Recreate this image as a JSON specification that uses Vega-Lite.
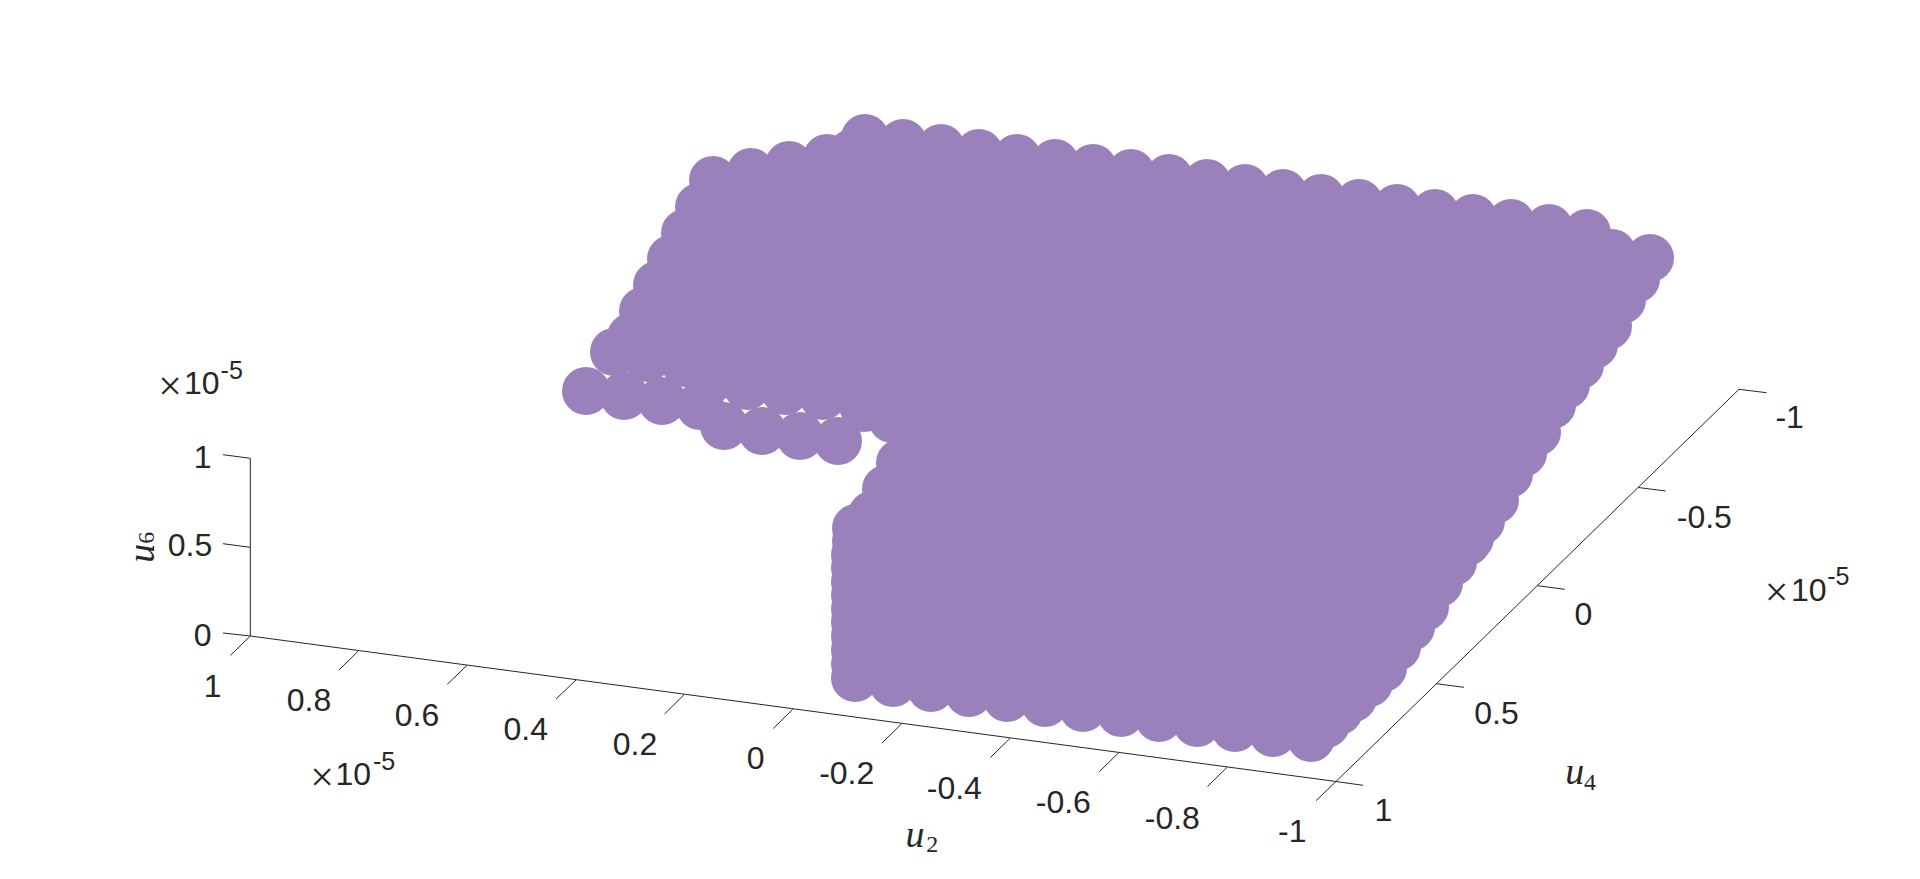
{"$schema":"https://vega.github.io/schema/vega-lite/v6.json","width":1920,"height":879,"padding":0,"autosize":{"type":"fit","contains":"padding"},"background":"white","config":{"view":{"stroke":null}},
"datasets":{
"points":[
{"x":865,"y":138},{"x":903,"y":143},{"x":941,"y":148},{"x":979,"y":153},{"x":1017,"y":158},{"x":1055,"y":163},{"x":1093,"y":168},{"x":1131,"y":173},{"x":1169,"y":178},{"x":1207,"y":183},{"x":1245,"y":188},{"x":1283,"y":193},{"x":1321,"y":198},{"x":1359,"y":203},{"x":1397,"y":208},{"x":1435,"y":213},{"x":1473,"y":218},{"x":1511,"y":223},{"x":1549,"y":228},{"x":1587,"y":233},
{"x":713,"y":180},{"x":751,"y":172},{"x":789,"y":165},{"x":827,"y":158},
{"x":852,"y":153},{"x":890,"y":158},{"x":928,"y":163},{"x":966,"y":168},{"x":1004,"y":173},{"x":1042,"y":178},{"x":1080,"y":183},{"x":1118,"y":188},{"x":1156,"y":193},{"x":1194,"y":198},{"x":1232,"y":203},{"x":1270,"y":208},{"x":1308,"y":213},{"x":1346,"y":218},{"x":1384,"y":223},{"x":1422,"y":228},{"x":1460,"y":233},{"x":1498,"y":238},{"x":1536,"y":243},{"x":1574,"y":248},{"x":1612,"y":253},{"x":1650,"y":258},
{"x":800,"y":178},{"x":838,"y":183},{"x":876,"y":188},{"x":914,"y":193},{"x":952,"y":198},{"x":990,"y":203},{"x":1028,"y":208},{"x":1066,"y":213},{"x":1104,"y":218},{"x":1142,"y":223},{"x":1180,"y":228},{"x":1218,"y":233},{"x":1256,"y":238},{"x":1294,"y":243},{"x":1332,"y":248},{"x":1370,"y":253},{"x":1408,"y":258},{"x":1446,"y":263},{"x":1484,"y":268},{"x":1522,"y":273},{"x":1560,"y":278},{"x":1598,"y":283},
{"x":751,"y":185},{"x":789,"y":190},{"x":827,"y":195},{"x":865,"y":200},{"x":903,"y":205},{"x":941,"y":210},{"x":979,"y":215},{"x":1017,"y":220},{"x":1055,"y":225},{"x":1093,"y":230},{"x":1131,"y":235},{"x":1169,"y":240},{"x":1207,"y":245},{"x":1245,"y":250},{"x":1283,"y":255},{"x":1321,"y":260},{"x":1359,"y":265},{"x":1397,"y":270},{"x":1435,"y":275},{"x":1473,"y":280},{"x":1511,"y":285},{"x":1549,"y":290},{"x":1587,"y":295},
{"x":699,"y":207},{"x":737,"y":212},{"x":775,"y":217},{"x":813,"y":222},{"x":851,"y":227},{"x":889,"y":232},{"x":927,"y":237},{"x":965,"y":242},{"x":1003,"y":247},{"x":1041,"y":252},{"x":1079,"y":257},{"x":1117,"y":262},{"x":1155,"y":267},{"x":1193,"y":272},{"x":1231,"y":277},{"x":1269,"y":282},{"x":1307,"y":287},{"x":1345,"y":292},{"x":1383,"y":297},{"x":1421,"y":302},{"x":1459,"y":307},{"x":1497,"y":312},{"x":1535,"y":317},{"x":1573,"y":322},
{"x":685,"y":233},{"x":723,"y":238},{"x":761,"y":243},{"x":799,"y":248},{"x":837,"y":253},{"x":875,"y":258},{"x":913,"y":263},{"x":951,"y":268},{"x":989,"y":273},{"x":1027,"y":278},{"x":1065,"y":283},{"x":1103,"y":288},{"x":1141,"y":293},{"x":1179,"y":298},{"x":1217,"y":303},{"x":1255,"y":308},{"x":1293,"y":313},{"x":1331,"y":318},{"x":1369,"y":323},{"x":1407,"y":328},{"x":1445,"y":333},{"x":1483,"y":338},{"x":1521,"y":343},{"x":1559,"y":348},
{"x":671,"y":259},{"x":709,"y":264},{"x":747,"y":269},{"x":785,"y":274},{"x":823,"y":279},{"x":861,"y":284},{"x":899,"y":289},{"x":937,"y":294},{"x":975,"y":299},{"x":1013,"y":304},{"x":1051,"y":309},{"x":1089,"y":314},{"x":1127,"y":319},{"x":1165,"y":324},{"x":1203,"y":329},{"x":1241,"y":334},{"x":1279,"y":339},{"x":1317,"y":344},{"x":1355,"y":349},{"x":1393,"y":354},{"x":1431,"y":359},{"x":1469,"y":364},{"x":1507,"y":369},{"x":1545,"y":374},
{"x":657,"y":285},{"x":695,"y":290},{"x":733,"y":295},{"x":771,"y":300},{"x":809,"y":305},{"x":847,"y":310},{"x":885,"y":315},{"x":923,"y":320},{"x":961,"y":325},{"x":999,"y":330},{"x":1037,"y":335},{"x":1075,"y":340},{"x":1113,"y":345},{"x":1151,"y":350},{"x":1189,"y":355},{"x":1227,"y":360},{"x":1265,"y":365},{"x":1303,"y":370},{"x":1341,"y":375},{"x":1379,"y":380},{"x":1417,"y":385},{"x":1455,"y":390},{"x":1493,"y":395},{"x":1531,"y":400},
{"x":643,"y":311},{"x":681,"y":316},{"x":719,"y":321},{"x":757,"y":326},{"x":795,"y":331},{"x":833,"y":336},{"x":871,"y":341},{"x":909,"y":346},{"x":947,"y":351},{"x":985,"y":356},{"x":1023,"y":361},{"x":1061,"y":366},{"x":1099,"y":371},{"x":1137,"y":376},{"x":1175,"y":381},{"x":1213,"y":386},{"x":1251,"y":391},{"x":1289,"y":396},{"x":1327,"y":401},{"x":1365,"y":406},{"x":1403,"y":411},{"x":1441,"y":416},{"x":1479,"y":421},{"x":1517,"y":426},
{"x":631,"y":337},{"x":669,"y":342},{"x":707,"y":347},{"x":745,"y":352},{"x":783,"y":357},{"x":821,"y":362},{"x":859,"y":367},{"x":897,"y":372},{"x":935,"y":377},{"x":973,"y":382},{"x":1011,"y":387},{"x":1049,"y":392},{"x":1087,"y":397},{"x":1125,"y":402},{"x":1163,"y":407},{"x":1201,"y":412},{"x":1239,"y":417},{"x":1277,"y":422},{"x":1315,"y":427},{"x":1353,"y":432},{"x":1391,"y":437},{"x":1429,"y":442},{"x":1467,"y":447},{"x":1505,"y":452},
{"x":614,"y":352},{"x":647,"y":358},{"x":685,"y":363},{"x":723,"y":368},{"x":761,"y":373},{"x":799,"y":378},{"x":837,"y":383},{"x":875,"y":388},{"x":913,"y":393},{"x":951,"y":398},{"x":989,"y":403},{"x":1027,"y":408},{"x":1065,"y":413},{"x":1103,"y":418},{"x":1141,"y":423},{"x":1179,"y":428},{"x":1217,"y":433},{"x":1255,"y":438},{"x":1293,"y":443},{"x":1331,"y":448},{"x":1369,"y":453},{"x":1407,"y":458},{"x":1445,"y":463},{"x":1483,"y":468},
{"x":709,"y":381},{"x":747,"y":386},{"x":785,"y":391},{"x":823,"y":396},{"x":861,"y":401},{"x":899,"y":406},{"x":937,"y":411},{"x":975,"y":416},{"x":1013,"y":421},{"x":1051,"y":426},{"x":1089,"y":431},{"x":1127,"y":436},{"x":1165,"y":441},{"x":1203,"y":446},{"x":1241,"y":451},{"x":1279,"y":456},{"x":1317,"y":461},{"x":1355,"y":466},{"x":1393,"y":471},{"x":1431,"y":476},{"x":1469,"y":481},{"x":864,"y":408},
{"x":586,"y":391},{"x":624,"y":396},{"x":662,"y":401},{"x":700,"y":406},{"x":724,"y":426},{"x":762,"y":431},{"x":800,"y":436},{"x":838,"y":441},
{"x":892,"y":419},{"x":930,"y":424},{"x":968,"y":429},{"x":1006,"y":434},{"x":1044,"y":439},{"x":1082,"y":444},{"x":1120,"y":449},{"x":1158,"y":454},{"x":1196,"y":459},{"x":1234,"y":464},{"x":1272,"y":469},{"x":1310,"y":474},{"x":1348,"y":479},{"x":1386,"y":484},{"x":1424,"y":489},{"x":1462,"y":494},
{"x":915,"y":443},{"x":953,"y":448},{"x":991,"y":453},{"x":1029,"y":458},{"x":1067,"y":463},{"x":1105,"y":468},{"x":1143,"y":473},{"x":1181,"y":478},{"x":1219,"y":483},{"x":1257,"y":488},{"x":1295,"y":493},{"x":1333,"y":498},{"x":1371,"y":503},{"x":1409,"y":508},{"x":1447,"y":513},
{"x":900,"y":463},{"x":938,"y":468},{"x":976,"y":473},{"x":1014,"y":478},{"x":1052,"y":483},{"x":1090,"y":488},{"x":1128,"y":493},{"x":1166,"y":498},{"x":1204,"y":503},{"x":1242,"y":508},{"x":1280,"y":513},{"x":1318,"y":518},{"x":1356,"y":523},{"x":1394,"y":528},{"x":1432,"y":533},{"x":1470,"y":538},
{"x":886,"y":489},{"x":924,"y":494},{"x":962,"y":499},{"x":1000,"y":504},{"x":1038,"y":509},{"x":1076,"y":514},{"x":1114,"y":519},{"x":1152,"y":524},{"x":1190,"y":529},{"x":1228,"y":534},{"x":1266,"y":539},{"x":1304,"y":544},{"x":1342,"y":549},{"x":1380,"y":554},{"x":1418,"y":559},
{"x":872,"y":515},{"x":910,"y":520},{"x":948,"y":525},{"x":986,"y":530},{"x":1024,"y":535},{"x":1062,"y":540},{"x":1100,"y":545},{"x":1138,"y":550},{"x":1176,"y":555},{"x":1214,"y":560},{"x":1252,"y":565},{"x":1290,"y":570},{"x":1328,"y":575},{"x":1366,"y":580},{"x":1404,"y":585},
{"x":856,"y":541},{"x":894,"y":546},{"x":932,"y":551},{"x":970,"y":556},{"x":1008,"y":561},{"x":1046,"y":566},{"x":1084,"y":571},{"x":1122,"y":576},{"x":1160,"y":581},{"x":1198,"y":586},{"x":1236,"y":591},{"x":1274,"y":596},{"x":1312,"y":601},{"x":1350,"y":606},{"x":1388,"y":611},
{"x":855,"y":568},{"x":893,"y":573},{"x":931,"y":578},{"x":969,"y":583},{"x":1007,"y":588},{"x":1045,"y":593},{"x":1083,"y":598},{"x":1121,"y":603},{"x":1159,"y":608},{"x":1197,"y":613},{"x":1235,"y":618},{"x":1273,"y":623},{"x":1311,"y":628},{"x":1349,"y":633},{"x":1387,"y":638},
{"x":855,"y":595},{"x":893,"y":600},{"x":931,"y":605},{"x":969,"y":610},{"x":1007,"y":615},{"x":1045,"y":620},{"x":1083,"y":625},{"x":1121,"y":630},{"x":1159,"y":635},{"x":1197,"y":640},{"x":1235,"y":645},{"x":1273,"y":650},{"x":1311,"y":655},{"x":1349,"y":660},
{"x":855,"y":622},{"x":893,"y":627},{"x":931,"y":632},{"x":969,"y":637},{"x":1007,"y":642},{"x":1045,"y":647},{"x":1083,"y":652},{"x":1121,"y":657},{"x":1159,"y":662},{"x":1197,"y":667},{"x":1235,"y":672},{"x":1273,"y":677},{"x":1311,"y":682},{"x":1349,"y":687},
{"x":855,"y":650},{"x":893,"y":655},{"x":931,"y":660},{"x":969,"y":665},{"x":1007,"y":670},{"x":1045,"y":675},{"x":1083,"y":680},{"x":1121,"y":685},{"x":1159,"y":690},{"x":1197,"y":695},{"x":1235,"y":700},{"x":1273,"y":705},{"x":1311,"y":710},
{"x":855,"y":678},{"x":893,"y":683},{"x":931,"y":688},{"x":969,"y":693},{"x":1007,"y":698},{"x":1045,"y":703},{"x":1083,"y":708},{"x":1121,"y":713},{"x":1159,"y":718},{"x":1197,"y":723},{"x":1235,"y":728},{"x":1273,"y":733},{"x":1311,"y":738},
{"x":1636,"y":279},{"x":1622,"y":300},{"x":1608,"y":326},{"x":1594,"y":345},{"x":1580,"y":365},{"x":1566,"y":385},{"x":1552,"y":405},{"x":1537,"y":432},{"x":1523,"y":453},{"x":1509,"y":474},{"x":1495,"y":500},{"x":1481,"y":521},{"x":1467,"y":542},{"x":1453,"y":562},{"x":1439,"y":583},{"x":1425,"y":607},{"x":1411,"y":627},{"x":1397,"y":647},{"x":1383,"y":668},{"x":1369,"y":683},{"x":1353,"y":698},{"x":1339,"y":711},{"x":1326,"y":724},
{"x":856,"y":528},{"x":855,"y":555},{"x":855,"y":582},{"x":855,"y":609},{"x":855,"y":636},{"x":855,"y":664}
],
"segments":[
{"x":250.3,"y":458.3,"x2":250.3,"y2":636},{"x":250.3,"y":636,"x2":1336,"y2":781.5},{"x":1336,"y":781.5,"x2":1739,"y2":389.3},
{"x":223,"y":454.7,"x2":250.3,"y2":458.3},{"x":223,"y":543.7,"x2":250.3,"y2":547.3},{"x":223,"y":633,"x2":250.3,"y2":636},
{"x":250.3,"y":636,"x2":230.5,"y2":655.3},{"x":358.3,"y":651,"x2":339,"y2":670},{"x":467,"y":665.3,"x2":447.3,"y2":684.3},{"x":576,"y":680,"x2":556,"y2":699},{"x":684,"y":694.7,"x2":664.5,"y2":714},{"x":792.7,"y":709.3,"x2":773.3,"y2":728.5},{"x":901.7,"y":723.7,"x2":882,"y2":743},{"x":1010,"y":738.3,"x2":990.5,"y2":757.5},{"x":1118.7,"y":752.7,"x2":1099.3,"y2":771.7},{"x":1227,"y":767.3,"x2":1207.5,"y2":786.5},{"x":1336,"y":781.5,"x2":1316,"y2":800.7},
{"x":1739,"y":389.3,"x2":1766.5,"y2":392.7},{"x":1638.3,"y":487.5,"x2":1665.6,"y2":491},{"x":1537.4,"y":585.7,"x2":1564.8,"y2":589.3},{"x":1436.5,"y":683.7,"x2":1464,"y2":687.3},{"x":1336,"y":781.5,"x2":1363,"y2":785.3}
],
"tickLabels":[
{"t":"1","x":202.7,"y":458},{"t":"0.5","x":190,"y":546.3},{"t":"0","x":202.7,"y":635.7},
{"t":"1","x":212.7,"y":687.3},{"t":"0.8","x":309,"y":701.3},{"t":"0.6","x":417,"y":716.3},{"t":"0.4","x":525.7,"y":730.3},{"t":"0.2","x":635,"y":745.3},{"t":"0","x":755.7,"y":759.3},{"t":"-0.2","x":846.7,"y":774.3},{"t":"-0.4","x":954.3,"y":789.3},{"t":"-0.6","x":1063.3,"y":803.3},{"t":"-0.8","x":1172.3,"y":818.7},{"t":"-1","x":1292.3,"y":832},
{"t":"-1","x":1789.6,"y":418},{"t":"-0.5","x":1704.3,"y":517.7},{"t":"0","x":1583.5,"y":615.3},{"t":"0.5","x":1496.5,"y":713.7},{"t":"1","x":1383.5,"y":811.3},
{"t":"10","x":201.7,"y":383.7},{"t":"10","x":353.3,"y":774.7},{"t":"10","x":1808.7,"y":591.3}
],
"exponents":[{"t":"-5","x":231.7,"y":371},{"t":"-5","x":384,"y":762},{"t":"-5","x":1838.3,"y":577}],
"times":[{"t":"×","x":170,"y":386.7},{"t":"×","x":322,"y":777.7},{"t":"×","x":1776.5,"y":593.3}],
"axisU":[{"t":"u","x":915,"y":836},{"t":"u","x":1574.8,"y":773}],
"axisSub":[{"t":"2","x":932.3,"y":845},{"t":"4","x":1590,"y":783}],
"axisU6":[{"t":"u","x":143.3,"y":553.3}],
"axisSub6":[{"t":"6","x":146.5,"y":537.7}]
},
"encoding":{"x":{"field":"x","type":"quantitative","scale":{"domain":[0,1920],"nice":false,"zero":false},"axis":null},"y":{"field":"y","type":"quantitative","scale":{"domain":[879,0],"nice":false,"zero":false},"axis":null}},
"layer":[
{"data":{"name":"segments"},"mark":{"type":"rule","color":"#262626","strokeWidth":1},"encoding":{"x2":{"field":"x2"},"y2":{"field":"y2"}}},
{"data":{"name":"points"},"mark":{"type":"circle","size":2304,"color":"#9b81bb","opacity":1,"strokeWidth":0}},
{"data":{"name":"tickLabels"},"mark":{"type":"text","font":"Liberation Sans","fontSize":32,"color":"#262626","align":"center","baseline":"middle"},"encoding":{"text":{"field":"t"}}},
{"data":{"name":"exponents"},"mark":{"type":"text","font":"Liberation Sans","fontSize":25,"color":"#262626","align":"center","baseline":"middle"},"encoding":{"text":{"field":"t"}}},
{"data":{"name":"times"},"mark":{"type":"text","font":"Liberation Serif","fontSize":42,"color":"#262626","align":"center","baseline":"middle"},"encoding":{"text":{"field":"t"}}},
{"data":{"name":"axisU"},"mark":{"type":"text","font":"Liberation Serif","fontStyle":"italic","fontSize":38,"color":"#262626","align":"center","baseline":"middle"},"encoding":{"text":{"field":"t"}}},
{"data":{"name":"axisSub"},"mark":{"type":"text","font":"Liberation Serif","fontSize":24,"color":"#262626","align":"center","baseline":"middle"},"encoding":{"text":{"field":"t"}}},
{"data":{"name":"axisU6"},"mark":{"type":"text","font":"Liberation Serif","fontStyle":"italic","fontSize":38,"color":"#262626","align":"center","baseline":"middle","angle":270},"encoding":{"text":{"field":"t"}}},
{"data":{"name":"axisSub6"},"mark":{"type":"text","font":"Liberation Serif","fontSize":24,"color":"#262626","align":"center","baseline":"middle","angle":270},"encoding":{"text":{"field":"t"}}}
]}
